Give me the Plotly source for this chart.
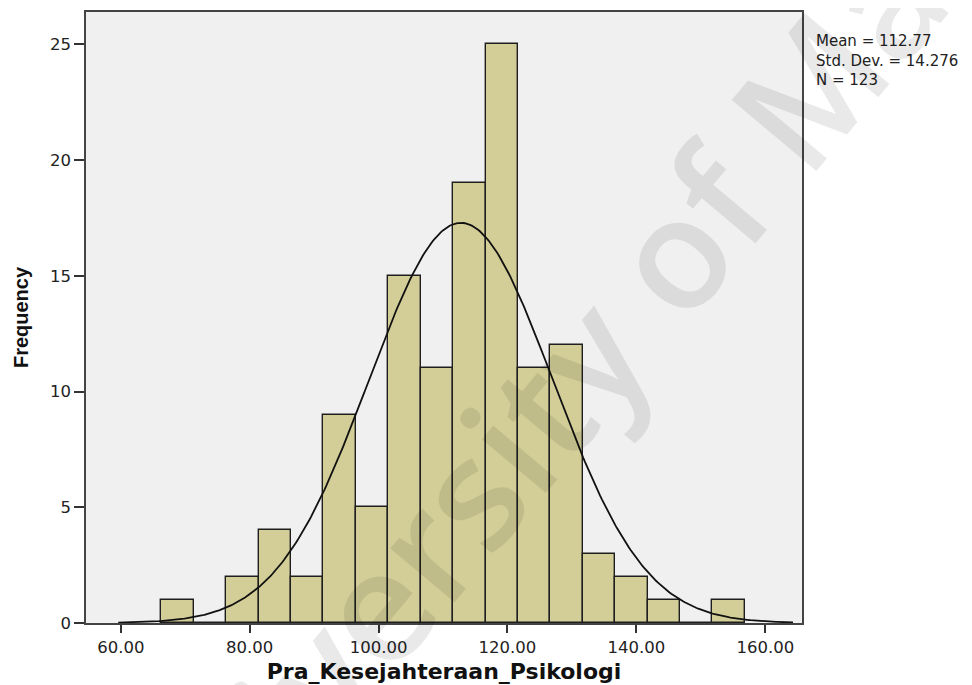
import numpy as np
import plotly.graph_objects as go

# Histogram data
bin_start = 66.3
bin_width = 5.03
counts = [1, 0, 2, 4, 2, 9, 5, 15, 11, 19, 25, 11, 12, 3, 2, 1, 0, 1]
mean_val = 112.77
std_val = 14.276
n_val = 123
x_ticks = [60, 80, 100, 120, 140, 160]
y_ticks = [0, 5, 10, 15, 20, 25]

centers = [bin_start + bin_width * (i + 0.5) for i in range(len(counts))]

# Normal curve from the reported mean/std (scaled to counts)
cx = np.linspace(59.6, 164.3, 400)
cy = n_val * bin_width * np.exp(-0.5 * ((cx - mean_val) / std_val) ** 2) / (std_val * np.sqrt(2 * np.pi))

fig = go.Figure()
fig.add_trace(go.Bar(
    x=centers, y=counts, width=bin_width,
    marker=dict(color="#d3ce97", line=dict(color="#1e1e1e", width=1.4)),
    hoverinfo="x+y", showlegend=False,
))
fig.add_trace(go.Scatter(
    x=cx, y=cy, mode="lines",
    line=dict(color="#111111", width=1.8),
    hoverinfo="skip", showlegend=False,
))

# page body has an 8px margin, so the figure is drawn 8px in from the corner
OFF = 8
W, H = 972 - OFF, 685 - OFF
L, T = 86 - OFF, 12 - OFF
R = W - (802 - OFF)
B = H - (623 - OFF)
pw, ph = W - L - R, H - T - B

def px(xs):
    return (xs - OFF - L) / pw

def py(ys):
    return (H - B - (ys - OFF)) / ph

annotations = [dict(
    text="Mean = 112.77<br>Std. Dev. = 14.276<br>N = 123",
    xref="paper", yref="paper", x=px(814), y=py(60),
    xanchor="left", yanchor="middle", align="left",
    showarrow=False, font=dict(family="DejaVu Sans", size=15, color="#222222"),
)]

# watermark
annotations.append(dict(
    text="University of Malaya", xref="paper", yref="paper",
    x=px(615), y=py(316), xanchor="center", yanchor="middle",
    textangle=-50, showarrow=False,
    font=dict(family="Open Sans", size=155, weight=600, color="rgba(0,0,0,0.085)"),
))

fig.update_layout(
    width=W, height=H,
    margin=dict(l=L, r=R, t=T, b=B, autoexpand=False),
    paper_bgcolor="white", plot_bgcolor="#f0f0f0",
    bargap=0,
    annotations=annotations,
    xaxis=dict(
        range=[54.6, 165.7], tickvals=x_ticks,
        ticktext=[f"{v:.2f}" for v in x_ticks],
        ticks="outside", ticklen=8, tickcolor="#333333", tickwidth=1.5,
        showline=True, linecolor="#444444", linewidth=1.5, mirror=True,
        showgrid=False, zeroline=False,
        tickfont=dict(family="DejaVu Sans", size=16.5, color="#222222"),
        title=dict(text="<b>Pra_Kesejahteraan_Psikologi</b>", standoff=8,
                   font=dict(family="DejaVu Sans", size=22, color="#111111")),
    ),
    yaxis=dict(
        range=[0, 26.4], tickvals=y_ticks,
        ticks="outside", ticklen=10, tickcolor="#333333", tickwidth=1.5,
        showline=True, linecolor="#444444", linewidth=1.5, mirror=True,
        showgrid=False, zeroline=False,
        tickfont=dict(family="DejaVu Sans", size=16.5, color="#222222"),
        title=dict(text="<b>Frequency</b>", standoff=16,
                   font=dict(family="Liberation Sans", size=20, color="#111111")),
    ),
)

fig.write_html("out.html")
